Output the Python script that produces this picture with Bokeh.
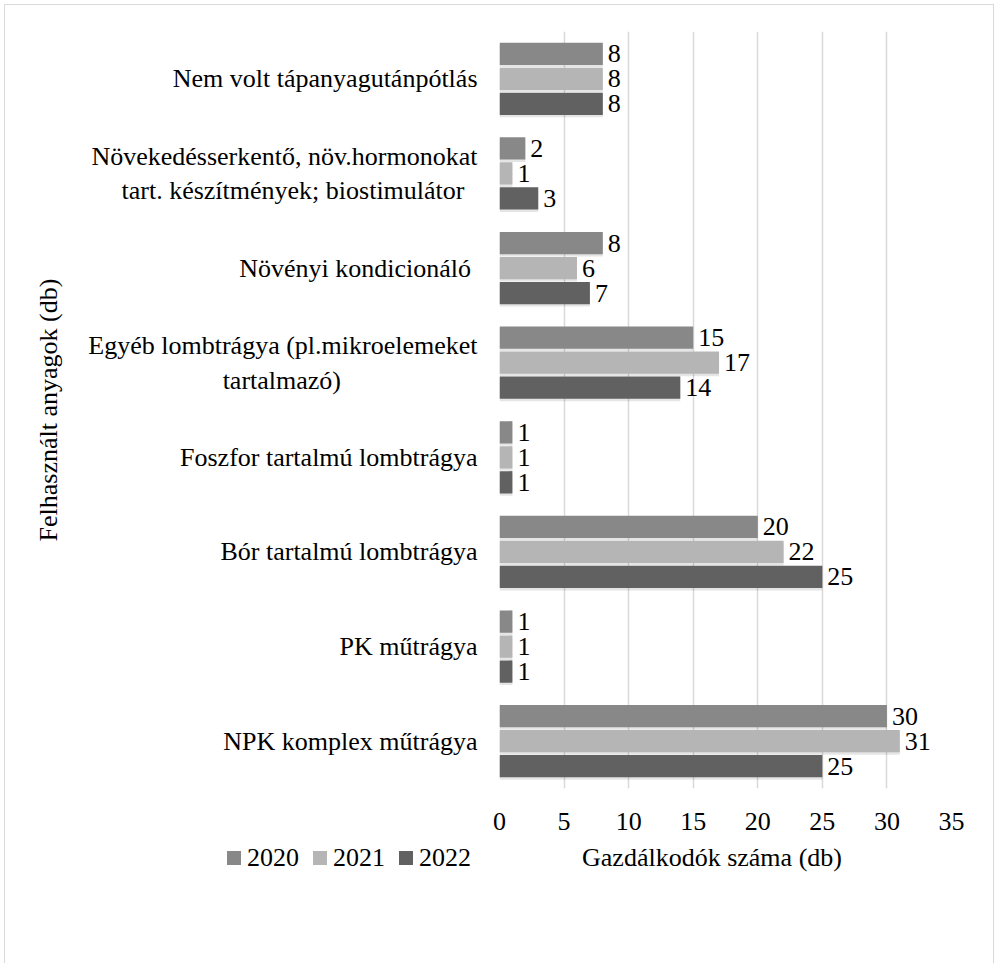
from bokeh.plotting import figure
from bokeh.layouts import column
from bokeh.models import ColumnDataSource, FactorRange, Range1d, Div
from bokeh.transform import dodge
from bokeh.core.properties import value
from bokeh.embed import file_html
from bokeh.resources import INLINE

# ---- data (bottom to top) ----
categories = [
    "NPK komplex műtrágya",
    "PK műtrágya",
    "Bór tartalmú lombtrágya",
    "Foszfor tartalmú lombtrágya",
    "Egyéb lombtrágya (pl.mikroelemeket\ntartalmazó)",
    "Növényi kondicionáló ",
    "Növekedésserkentő, növ.hormonokat\ntart. készítmények; biostimulátor",
    "Nem volt tápanyagutánpótlás",
]
years = ["2020", "2021", "2022"]
v2020 = [30, 1, 20, 1, 15, 8, 2, 8]
v2021 = [31, 1, 22, 1, 17, 6, 1, 8]
v2022 = [25, 1, 25, 1, 14, 7, 3, 8]
x_ticks = [0, 5, 10, 15, 20, 25, 30, 35]
x_title = "Gazdálkodók száma (db)"
y_title = "Felhasznált anyagok (db)"

FONT = "'Liberation Serif', 'Times New Roman', serif"
FS = "26px"
NB = "\u00a0"
colors = ["#888888", "#b5b5b5", "#616161"]

# right-aligned multi-line tick labels: pad the shorter 2nd line so it looks centred
pad = {4: 21, 6: 2}
factors = [c + NB * pad.get(i, 0) for i, c in enumerate(categories)]

src = ColumnDataSource(dict(
    cat=factors,
    v2020=v2020, v2021=v2021, v2022=v2022,
    l2020=[str(v) for v in v2020],
    l2021=[str(v) for v in v2021],
    l2022=[str(v) for v in v2022],
))

W = 990
H1 = 843
H2 = 112

p = figure(
    width=W, height=H1,
    y_range=FactorRange(factors=factors),
    x_range=Range1d(0, 35),
    output_backend="svg", toolbar_location=None,
    min_border_left=499, min_border_right=39, min_border_top=31, min_border_bottom=H1 - 788,
)
p.outline_line_color = None
p.background_fill_color = "white"
p.border_fill_color = "white"

# grid
p.ygrid.grid_line_color = None
p.xgrid.grid_line_color = "#d9d9d9"
p.xgrid.grid_line_width = 1.5
p.xaxis.ticker = x_ticks

series = [
    ("v2020", "l2020", 0.264, colors[0]),
    ("v2021", "l2021", 0.0, colors[1]),
    ("v2022", "l2022", -0.264, colors[2]),
]
BH = 0.236

for col, lab, off, color in series:
    # soft shadow
    p.hbar(y=dodge("cat", off - 0.025, range=p.y_range), right=col, left=0, height=BH,
           source=src, fill_color="black", fill_alpha=0.10, line_color=None)
    p.hbar(y=dodge("cat", off, range=p.y_range), right=col, left=0, height=BH,
           source=src, fill_color=color, line_color=None)
    p.text(x=col, y=dodge("cat", off, range=p.y_range), text=lab, source=src,
           x_offset=5, text_align="left", text_baseline="middle",
           text_font=value(FONT), text_font_size=FS, text_color="black")

# axes
for ax in (p.xaxis[0], p.yaxis[0]):
    ax.axis_line_color = None
    ax.major_tick_line_color = None
    ax.minor_tick_line_color = None
    ax.major_tick_out = 0
    ax.major_label_text_font = FONT
    ax.major_label_text_font_size = FS
    ax.major_label_text_color = "black"
    ax.axis_label_text_font = FONT
    ax.axis_label_text_font_size = FS
    ax.axis_label_text_font_style = "normal"
    ax.axis_label_text_color = "black"

p.yaxis.axis_label = y_title
p.xaxis.major_label_standoff = 24
p.yaxis.major_label_standoff = 22
p.yaxis.axis_label_standoff = 22

# ---- bottom strip: legend and x-axis title on one line ----
leg_html = "".join(
    f'<span style="display:inline-block;width:14px;height:14px;background:{c};'
    f'vertical-align:middle;margin-left:{0 if i == 0 else 14}px;position:relative;top:-2px;"></span>'
    f'<span style="margin-left:6px;">{y}</span>'
    for i, (y, c) in enumerate(zip(years, colors))
)
html = (
    f'<div style="position:relative;width:{W}px;height:{H2}px;font-family:{FONT.replace(chr(39), "&#39;")};'
    f'font-size:{FS};color:black;">'
    f'<div style="position:absolute;left:227px;top:0px;line-height:30px;white-space:nowrap;">{leg_html}</div>'
    f'<div style="position:absolute;left:712px;top:0px;line-height:30px;white-space:nowrap;'
    f'transform:translateX(-50%);">{x_title}</div>'
    f'<div style="position:absolute;left:4px;top:{4 - H1}px;width:{W}px;height:{H1 + H2 + 12}px;'
    f'box-sizing:border-box;border:1.5px solid #d9d9d9;pointer-events:none;"></div>'
    f'</div>'
)
bottom = Div(text=html, width=W, height=H2, margin=0)

layout = column(p, bottom, spacing=0)

open("out.html", "w").write(file_html(layout, INLINE))
